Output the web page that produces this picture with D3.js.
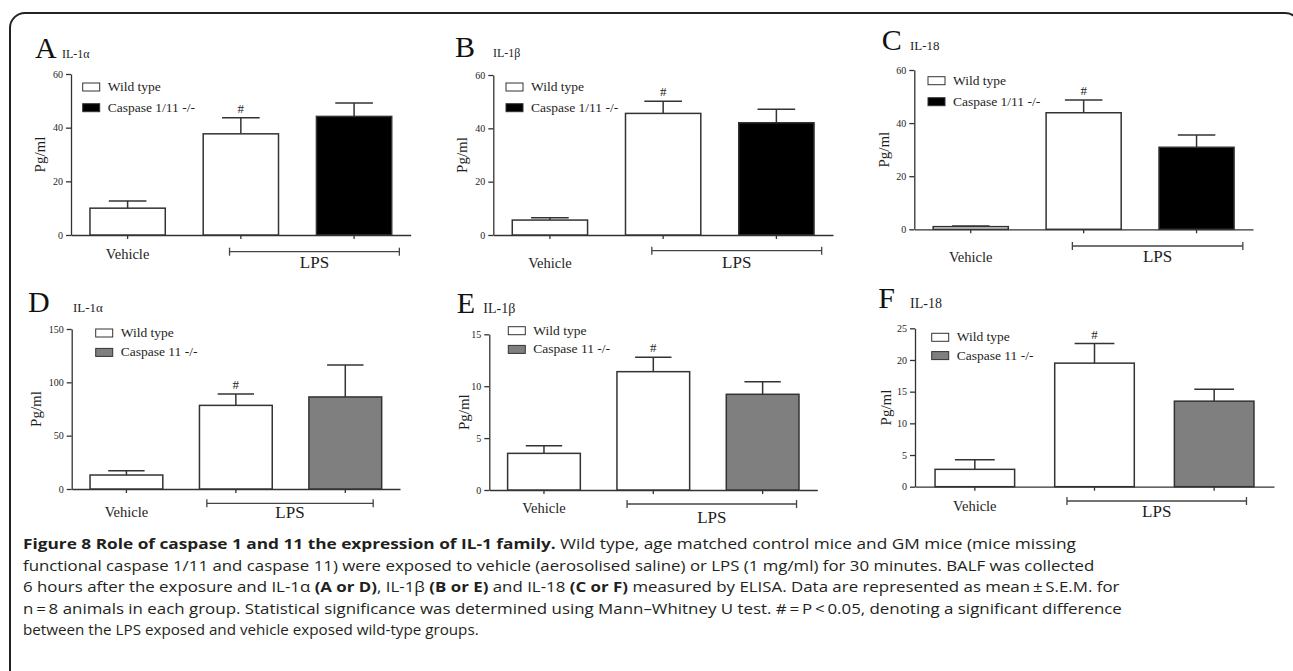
<!DOCTYPE html>
<html>
<head>
    <meta charset="utf-8">
    <script type="text/javascript" src="https://cdn.jsdelivr.net/npm/d3@7/dist/d3.min.js"></script>
</head>

<body style="margin:0px; background:white;">
    <svg id="SVGCanvas" width="1293" height="671"></svg>

    <script>
        // ---- the values ----
        var barKeys = ["Vehicle WT", "LPS WT", "LPS KO"];
        var panelLetters = ["A", "B", "C", "D", "E", "F"];
        var cytokines = ["IL-1α", "IL-1β", "IL-18", "IL-1α", "IL-1β", "IL-18"];
        var legendWild = "Wild type";
        var legendKO = ["Caspase 1/11 -/-", "Caspase 1/11 -/-", "Caspase 1/11 -/-",
                        "Caspase 11 -/-", "Caspase 11 -/-", "Caspase 11 -/-"];
        var yMax = [60, 60, 60, 150, 15, 25];
        var yTicks = [[0, 20, 40, 60], [0, 20, 40, 60], [0, 20, 40, 60],
                      [0, 50, 100, 150], [0, 5, 10, 15], [0, 5, 10, 15, 20, 25]];

        // mean and S.E.M. per panel: vehicle WT, LPS WT, LPS knockout
        var meanA = [10.0, 37.7, 44.2], semA = [2.7, 6.0, 5.0];
        var meanB = [5.6, 45.6, 42.1],  semB = [0.9, 4.6, 5.1];
        var meanC = [1.0, 43.9, 30.9],  semC = [0.2, 4.8, 4.6];
        var meanD = [13.1, 78.4, 86.3], semD = [4.1, 10.6, 30.0];
        var meanE = [3.53, 11.4, 9.22], semE = [0.74, 1.38, 1.22];
        var meanF = [2.74, 19.5, 13.5], semF = [1.5, 3.1, 1.9];
        var means = [meanA, meanB, meanC, meanD, meanE, meanF];
        var sems = [semA, semB, semC, semD, semE, semF];
        var significant = [1]; // "#" goes over the LPS wild type bar

        // where each panel sits on the page
        var layout = [
            {x0: 71,    x1: 410.7,  yTop: 74,    yZero: 235,   lx: 35,    ly: 58,    cx: 62,    cs: 12, legX: 82.7,  legY: 83,    legGap: 20.7, brLo: 0.10, brHi: 0.40, brDy: 16.7, vehDy: 24,   lpsDy: 33,   yLabDx: 26,   ko: "#000"},
            {x0: 493.3, x1: 833,    yTop: 75,    yZero: 235,   lx: 455,   ly: 57,    cx: 493,   cs: 12, legX: 506,   legY: 83,    legGap: 20.7, brLo: 0.10, brHi: 0.40, brDy: 15.7, vehDy: 32.7, lpsDy: 32.7, yLabDx: 26,   ko: "#000"},
            {x0: 914.3, x1: 1253,   yTop: 70,    yZero: 229.3, lx: 881.7, ly: 50,    cx: 910,   cs: 13, legX: 928,   legY: 76.7,  legGap: 21,   brLo: 0.10, brHi: 0.41, brDy: 16.7, vehDy: 32.7, lpsDy: 32.7, yLabDx: 25,   ko: "#000"},
            {x0: 71.7,  x1: 400,    yTop: 329,   yZero: 489,   lx: 28,    ly: 311.7, cx: 73,    cs: 13, legX: 95.7,  legY: 329,   legGap: 19.4, brLo: 0.265, brHi: 0.255, brDy: 14.3, vehDy: 28.3, lpsDy: 29,   yLabDx: 31,   ko: "#7f7f7f"},
            {x0: 489.3, x1: 817.3,  yTop: 334.3, yZero: 490,   lx: 456.7, ly: 313.3, cx: 483.3, cs: 14, legX: 508.3, legY: 326.7, legGap: 18.7, brLo: 0.24, brHi: 0.31, brDy: 14,   vehDy: 23.3, lpsDy: 32.7, yLabDx: 20.3, ko: "#7f7f7f"},
            {x0: 915,   x1: 1274,   yTop: 328.3, yZero: 486.7, lx: 878.3, ly: 308.3, cx: 910,   cs: 14, legX: 931.7, legY: 333.3, legGap: 18.3, brLo: 0.23, brHi: 0.27, brDy: 14.3, vehDy: 24.3, lpsDy: 30,   yLabDx: 24.3, ko: "#7f7f7f"}
        ];

        // caption, line by line: [text, bold]
        var captionLines = [
            [["Figure 8 Role of caspase 1 and 11 the expression of IL-1 family.", true],
             [" Wild type, age matched control mice and GM mice (mice missing", false]],
            [["functional caspase 1/11 and caspase 11) were exposed to vehicle (aerosolised saline) or LPS (1 mg/ml) for 30 minutes. BALF was collected", false]],
            [["6 hours after the exposure and IL-1α ", false], ["(A or D)", true], [", IL-1β ", false], ["(B or E)", true],
             [" and IL-18 ", false], ["(C or F)", true], [" measured by ELISA. Data are represented as mean\u2009±\u2009S.E.M. for", false]],
            [["n\u2009=\u20098 animals in each group. Statistical significance was determined using Mann–Whitney U test. #\u2009=\u2009P\u2009<\u20090.05, denoting a significant difference", false]],
            [["between the LPS exposed and vehicle exposed wild-type groups.", false]]
        ];
        // each caption line is squeezed to the width it has in the figure
        var captionWidths = [1054, 1072, 1097, 1099, 456];
        var captionBase = [549, 571, 592, 614, 635];

        var serif = "'Liberation Serif', 'Times New Roman', serif";
        var ink = "#1e1e1e";

        var svg = d3.select("#SVGCanvas");

        // frame round the figure; its right and bottom edges run off the picture
        svg.append("rect")
            .attr("x", 10).attr("y", 13)
            .attr("width", 1290).attr("height", 700)
            .attr("rx", 15)
            .attr("fill", "none")
            .attr("stroke", "#222")
            .attr("stroke-width", 2);

        function drawPanel(i) {
            var L = layout[i];
            var g = svg.append("g");

            var x = d3.scaleBand().domain(barKeys)
                .range([L.x0, L.x1])
                .paddingInner(0.335).paddingOuter(0.1675);
            var y = d3.scaleLinear().domain([0, yMax[i]]).range([L.yZero, L.yTop]);

            var rows = barKeys.map(function (k, j) {
                return {key: k, mean: means[i][j], sem: sems[i][j], fill: j < 2 ? "white" : L.ko};
            });

            // axes
            var yAxis = g.append("g")
                .attr("transform", "translate(" + L.x0 + ",0)")
                .call(d3.axisLeft(y).tickValues(yTicks[i]).tickSize(5).tickSizeOuter(0).tickPadding(3));
            var xAxis = g.append("g")
                .attr("transform", "translate(0," + L.yZero + ")")
                .call(d3.axisBottom(x).tickSize(4).tickSizeOuter(0).tickFormat(""));
            [yAxis, xAxis].forEach(function (a) {
                a.selectAll(".domain, line").attr("stroke", "#333").attr("stroke-width", 1.3);
                a.selectAll("text")
                    .attr("font-family", serif)
                    .attr("font-size", 10)
                    .attr("fill", ink);
            });

            // error bars (upper half only)
            var cap = x.bandwidth() * 0.25;
            var err = g.append("g").attr("stroke", "#333").attr("stroke-width", 1.5);
            err.selectAll(".stem").data(rows).enter().append("line")
                .attr("x1", d => x(d.key) + x.bandwidth() / 2)
                .attr("x2", d => x(d.key) + x.bandwidth() / 2)
                .attr("y1", d => y(d.mean))
                .attr("y2", d => y(d.mean + d.sem));
            err.selectAll(".cap").data(rows).enter().append("line")
                .attr("x1", d => x(d.key) + x.bandwidth() / 2 - cap)
                .attr("x2", d => x(d.key) + x.bandwidth() / 2 + cap)
                .attr("y1", d => y(d.mean + d.sem))
                .attr("y2", d => y(d.mean + d.sem));

            // bars
            g.selectAll(".bar").data(rows).enter().append("rect")
                .attr("x", d => x(d.key))
                .attr("y", d => y(d.mean))
                .attr("width", x.bandwidth())
                .attr("height", d => y(0) - y(d.mean))
                .style("fill", d => d.fill)
                .style("stroke", "#333")
                .style("stroke-width", "1.5px");

            // significance mark
            g.selectAll(".sig").data(significant.map(j => rows[j])).enter().append("text")
                .attr("x", d => x(d.key) + x.bandwidth() / 2)
                .attr("y", d => y(d.mean + d.sem) - 5)
                .attr("text-anchor", "middle")
                .attr("font-family", serif)
                .attr("font-size", 13)
                .attr("fill", ink)
                .text("#");

            // group labels and the LPS bracket
            var mid = d => x(d) + x.bandwidth() / 2;
            var bl = mid(barKeys[1]) - L.brLo * x.step();
            var br = mid(barKeys[2]) + L.brHi * x.step();
            var by = L.yZero + L.brDy;
            var brk = g.append("g").attr("stroke", "#444").attr("stroke-width", 1.3);
            brk.append("line").attr("x1", bl).attr("x2", br).attr("y1", by).attr("y2", by);
            [bl, br].forEach(function (bx) {
                brk.append("line").attr("x1", bx).attr("x2", bx).attr("y1", by - 4).attr("y2", by + 4);
            });
            g.append("text")
                .attr("x", mid(barKeys[0])).attr("y", L.yZero + L.vehDy)
                .attr("text-anchor", "middle")
                .attr("font-family", serif).attr("font-size", 14.5).attr("fill", ink)
                .text("Vehicle");
            g.append("text")
                .attr("x", (bl + br) / 2).attr("y", L.yZero + L.lpsDy)
                .attr("text-anchor", "middle")
                .attr("font-family", serif).attr("font-size", 17).attr("fill", ink)
                .text("LPS");

            // y title
            g.append("text")
                .attr("transform", "translate(" + (L.x0 - L.yLabDx) + "," + ((L.yTop + L.yZero) / 2) + ") rotate(-90)")
                .attr("text-anchor", "middle")
                .attr("font-family", serif).attr("font-size", 15).attr("fill", ink)
                .text("Pg/ml");

            // panel letter and cytokine name
            g.append("text")
                .attr("x", L.lx).attr("y", L.ly)
                .attr("font-family", serif).attr("font-size", 30).attr("fill", "#111")
                .text(panelLetters[i]);
            g.append("text")
                .attr("x", L.cx).attr("y", L.ly)
                .attr("font-family", serif).attr("font-size", L.cs).attr("fill", ink)
                .text(cytokines[i]);

            // legend
            var leg = [{label: legendWild, fill: "white"}, {label: legendKO[i], fill: L.ko}];
            var lg = g.selectAll(".leg").data(leg).enter().append("g")
                .attr("transform", (d, k) => "translate(" + L.legX + "," + (L.legY + k * L.legGap) + ")");
            lg.append("rect")
                .attr("width", 17).attr("height", 8)
                .style("fill", d => d.fill)
                .style("stroke", "#333")
                .style("stroke-width", "1px");
            lg.append("text")
                .attr("x", 25).attr("y", 8)
                .attr("font-family", serif).attr("font-size", 13.5).attr("fill", ink)
                .text(d => d.label);
        }

        for (var i = 0; i < 6; i++) {
            drawPanel(i);
        }

        // caption, each line squeezed to the width it has in the figure
        captionLines.forEach(function (line, k) {
            var t = svg.append("text")
                .attr("font-family", "'Open Sans', 'Noto Sans', sans-serif")
                .attr("font-size", 15)
                .attr("fill", "#231f20");
            line.forEach(function (seg) {
                t.append("tspan")
                    .attr("font-weight", seg[1] ? "bold" : "normal")
                    .text(seg[0]);
            });
            var natural = t.node().getComputedTextLength();
            t.attr("transform", "translate(23," + captionBase[k] + ") scale(" + (captionWidths[k] / natural) + ",1)");
        });
    </script>
</body>
</html>
